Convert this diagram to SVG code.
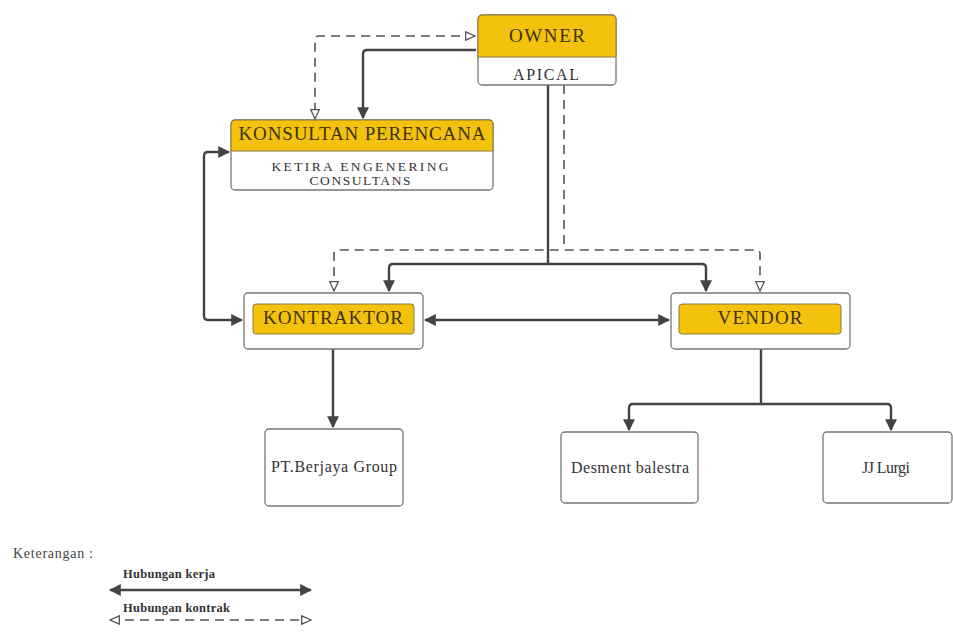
<svg xmlns="http://www.w3.org/2000/svg" width="953" height="632" viewBox="0 0 953 632">
<style>
.box{fill:#fff;stroke:#777;stroke-width:1.3}
.yel{fill:#F4C20D;stroke:#8a7a3a;stroke-width:1}
.t{font-family:"Liberation Serif",serif;fill:#333;text-anchor:middle}
.ty{font-family:"Liberation Serif",serif;fill:#3b3310;text-anchor:middle}
.solid{fill:none;stroke:#444;stroke-width:2.4;stroke-linejoin:round}
.dash{fill:none;stroke:#555;stroke-width:1.6;stroke-dasharray:9 6}
.lg{font-family:"Liberation Serif",serif;font-size:12.5px;font-weight:bold;fill:#333}
</style>
<defs>
<marker id="af" viewBox="0 0 10 10" refX="9" refY="5" markerWidth="5" markerHeight="5" orient="auto-start-reverse" markerUnits="strokeWidth">
<path d="M0,0 L10,5 L0,10 z" fill="#444"/>
</marker>
<marker id="ao" viewBox="0 0 12 12" refX="11" refY="6" markerWidth="7" markerHeight="7" orient="auto-start-reverse" markerUnits="strokeWidth">
<path d="M1,1.5 L11,6 L1,10.5 z" fill="#fff" stroke="#555" stroke-width="1.4"/>
</marker>
</defs>
<rect width="953" height="632" fill="#fff"/>

<g id="connectors">
<path class="dash" d="M475,36 H319 Q315,36 315,40 V119" marker-start="url(#ao)" marker-end="url(#ao)"/>
<path class="solid" d="M476,50 H367 Q363,50 363,54 V118" marker-end="url(#af)"/>
<path class="solid" d="M229,152 H208 Q204,152 204,156 V316 Q204,320 208,320 H242" marker-start="url(#af)" marker-end="url(#af)"/>
<path class="solid" d="M548,85 V264"/>
<path class="solid" d="M389,291 V268 Q389,264 393,264 H702 Q706,264 706,268 V291" marker-start="url(#af)" marker-end="url(#af)"/>
<path class="dash" d="M564,85 V250"/>
<path class="dash" d="M334,291 V254 Q334,250 338,250 H756 Q760,250 760,254 V291" marker-start="url(#ao)" marker-end="url(#ao)"/>
<path class="solid" d="M425,320 H669" marker-start="url(#af)" marker-end="url(#af)"/>
<path class="solid" d="M333,349 V427" marker-end="url(#af)"/>
<path class="solid" d="M761,349 V404"/>
<path class="solid" d="M629,430 V408 Q629,404 633,404 H887 Q891,404 891,408 V430" marker-start="url(#af)" marker-end="url(#af)"/>
</g>

<g id="owner">
<rect class="box" x="478" y="15" width="138" height="70" rx="4"/>
<path class="yel" d="M482,15 H612 Q616,15 616,19 V57 H478 V19 Q478,15 482,15 z"/>
<text class="ty" x="547" y="42" font-size="19" textLength="76">OWNER</text>
<text class="t" x="546" y="80" font-size="16" textLength="66">APICAL</text>
</g>

<g id="konsultan">
<rect class="box" x="231" y="120" width="262" height="70" rx="4"/>
<path class="yel" d="M235,120 H489 Q493,120 493,124 V151 H231 V124 Q231,120 235,120 z"/>
<text class="ty" x="362" y="140" font-size="19" textLength="247">KONSULTAN PERENCANA</text>
<text class="t" x="360" y="171" font-size="13.5" textLength="177">KETIRA ENGENERING</text>
<text class="t" x="360" y="185" font-size="13.5" textLength="101">CONSULTANS</text>
</g>

<g id="kontraktor">
<rect class="box" x="244" y="293" width="179" height="56" rx="4"/>
<rect class="yel" x="253" y="304" width="161" height="30" rx="3"/>
<text class="ty" x="333" y="324" font-size="19" textLength="140">KONTRAKTOR</text>
</g>

<g id="vendor">
<rect class="box" x="671" y="293" width="179" height="56" rx="4"/>
<rect class="yel" x="679" y="304" width="162" height="30" rx="3"/>
<text class="ty" x="760" y="324" font-size="19" textLength="85">VENDOR</text>
</g>

<g id="ptberjaya">
<rect class="box" x="265" y="429" width="138" height="77" rx="4"/>
<text class="t" x="334" y="472" font-size="16" textLength="126">PT.Berjaya Group</text>
</g>

<g id="desment">
<rect class="box" x="561" y="432" width="137" height="71" rx="4"/>
<text class="t" x="630" y="473" font-size="16" textLength="118">Desment balestra</text>
</g>

<g id="jjlurgi">
<rect class="box" x="823" y="432" width="129" height="71" rx="4"/>
<text class="t" x="886" y="473" font-size="16" textLength="48">JJ Lurgi</text>
</g>

<g id="legend">
<text x="13" y="558" font-family="Liberation Serif,serif" font-size="14" fill="#444" textLength="80">Keterangan :</text>
<text class="lg" x="123" y="578" textLength="92">Hubungan kerja</text>
<path class="solid" d="M110,590 H311" marker-start="url(#af)" marker-end="url(#af)"/>
<text class="lg" x="123" y="612" textLength="107">Hubungan kontrak</text>
<path class="dash" d="M110,620 H311" stroke-dasharray="11 8" marker-start="url(#ao)" marker-end="url(#ao)"/>
</g>
</svg>
